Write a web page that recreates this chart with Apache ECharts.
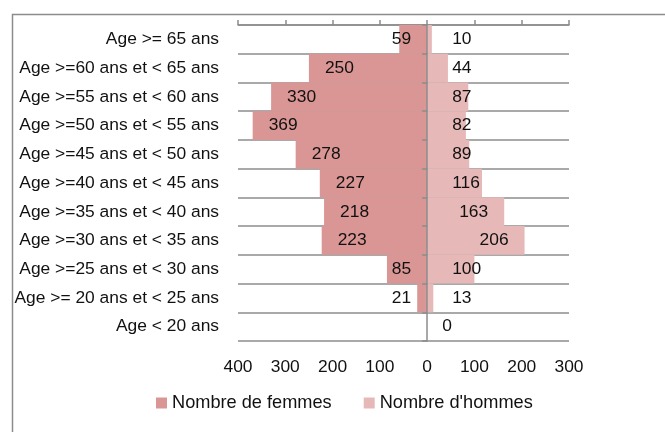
<!DOCTYPE html>
<html>
<head>
<meta charset="utf-8">
<script src="https://cdn.jsdelivr.net/npm/echarts@6/dist/echarts.min.js"></script>
<style>
  html, body { margin: 0; padding: 0; background: #fff; }
  #chart { width: 665px; height: 432px; }
</style>
</head>
<body>
<div id="chart"></div>
<script>
const categories = [
  'Age >= 65 ans',
  'Age >=60 ans et < 65 ans',
  'Age >=55 ans et < 60 ans',
  'Age >=50 ans et < 55 ans',
  'Age >=45 ans et < 50 ans',
  'Age >=40 ans et < 45 ans',
  'Age >=35 ans et < 40 ans',
  'Age >=30 ans et < 35 ans',
  'Age >=25 ans et < 30 ans',
  'Age >= 20 ans et < 25 ans',
  'Age < 20 ans'
];
const femmes = [59, 250, 330, 369, 278, 227, 218, 223, 85, 21, null];
const hommes = [10, 44, 87, 82, 89, 116, 163, 206, 100, 13, 0];
const seriesNames = ['Nombre de femmes', "Nombre d'hommes"];
const xMin = -400, xMax = 300, xStep = 100;

const FONT = 'Liberation Sans';
const FS = 17.4;
const GRAY = '#8c8c8c';

const femmesData = femmes.map(v => {
  if (v === null) return null;
  return {
    value: -v,
    label: v >= 100
      ? { position: 'insideLeft', distance: 16 }
      : { position: 'insideRight', distance: 16 }
  };
});
const hommesData = hommes.map(v => {
  let label;
  if (v === 0) label = { position: 'right', distance: 15 };
  else if (v >= 150) label = { position: 'insideRight', distance: 16 };
  else label = { position: 'insideLeft', distance: 25 };
  return { value: v, label: label };
});

const chart = echarts.init(document.getElementById('chart'), null, { renderer: 'canvas' });
chart.setOption({
  animation: false,
  backgroundColor: '#ffffff',
  textStyle: { fontFamily: FONT },
  graphic: [{
    type: 'rect',
    left: 10, top: 12,
    shape: { width: 700, height: 500 },
    style: { fill: 'none', stroke: GRAY, lineWidth: 1.5 },
    silent: true
  }],
  grid: { left: 238, right: 96, top: 25, bottom: 91, containLabel: false },
  legend: {
    left: 156, top: 394, padding: 0,
    itemWidth: 11, itemHeight: 11, itemGap: 32,
    icon: 'rect',
    textStyle: { fontFamily: FONT, fontSize: 18.2, color: '#111' },
    data: seriesNames
  },
  xAxis: [{
    type: 'value', position: 'top', min: xMin, max: xMax, interval: xStep,
    axisLine: { show: true, onZero: false, lineStyle: { color: GRAY, width: 1.5 } },
    axisTick: { show: true, length: 5, lineStyle: { color: GRAY, width: 1.5 } },
    axisLabel: { show: false },
    splitLine: { show: false }
  }, {
    type: 'value', position: 'bottom', min: xMin, max: xMax, interval: xStep,
    axisLine: { show: false, onZero: false },
    axisTick: { show: false },
    axisLabel: {
      show: true, margin: 18, fontFamily: FONT, fontSize: FS, color: '#111',
      formatter: v => String(Math.abs(v))
    },
    splitLine: { show: false }
  }],
  yAxis: [{
    type: 'category', data: categories, inverse: true, position: 'left',
    axisLine: { show: false, onZero: false },
    axisTick: { show: false },
    axisLabel: { margin: 19, fontFamily: FONT, fontSize: FS, color: '#111' },
    splitLine: { show: true, lineStyle: { color: GRAY, width: 1.5 } }
  }, {
    type: 'category', data: categories, inverse: true, position: 'left',
    z: 10,
    axisLine: { show: true, onZero: true, onZeroAxisIndex: 0, lineStyle: { color: GRAY, width: 1.5 } },
    axisTick: { show: true, length: 5, lineStyle: { color: GRAY, width: 1.5 } },
    axisLabel: { show: false },
    splitLine: { show: false }
  }],
  series: [{
    name: seriesNames[0], type: 'bar', xAxisIndex: 0, yAxisIndex: 0,
    barCategoryGap: '0%', barGap: '-100%',
    itemStyle: { color: '#D99694' },
    label: { show: true, fontFamily: FONT, fontSize: FS, color: '#111',
      formatter: p => String(Math.abs(p.value)) },
    data: femmesData
  }, {
    name: seriesNames[1], type: 'bar', xAxisIndex: 0, yAxisIndex: 0,
    barCategoryGap: '0%', barGap: '-100%',
    itemStyle: { color: '#E6B9B8' },
    label: { show: true, fontFamily: FONT, fontSize: FS, color: '#111',
      formatter: p => String(p.value) },
    data: hommesData
  }]
});
</script>
</body>
</html>
